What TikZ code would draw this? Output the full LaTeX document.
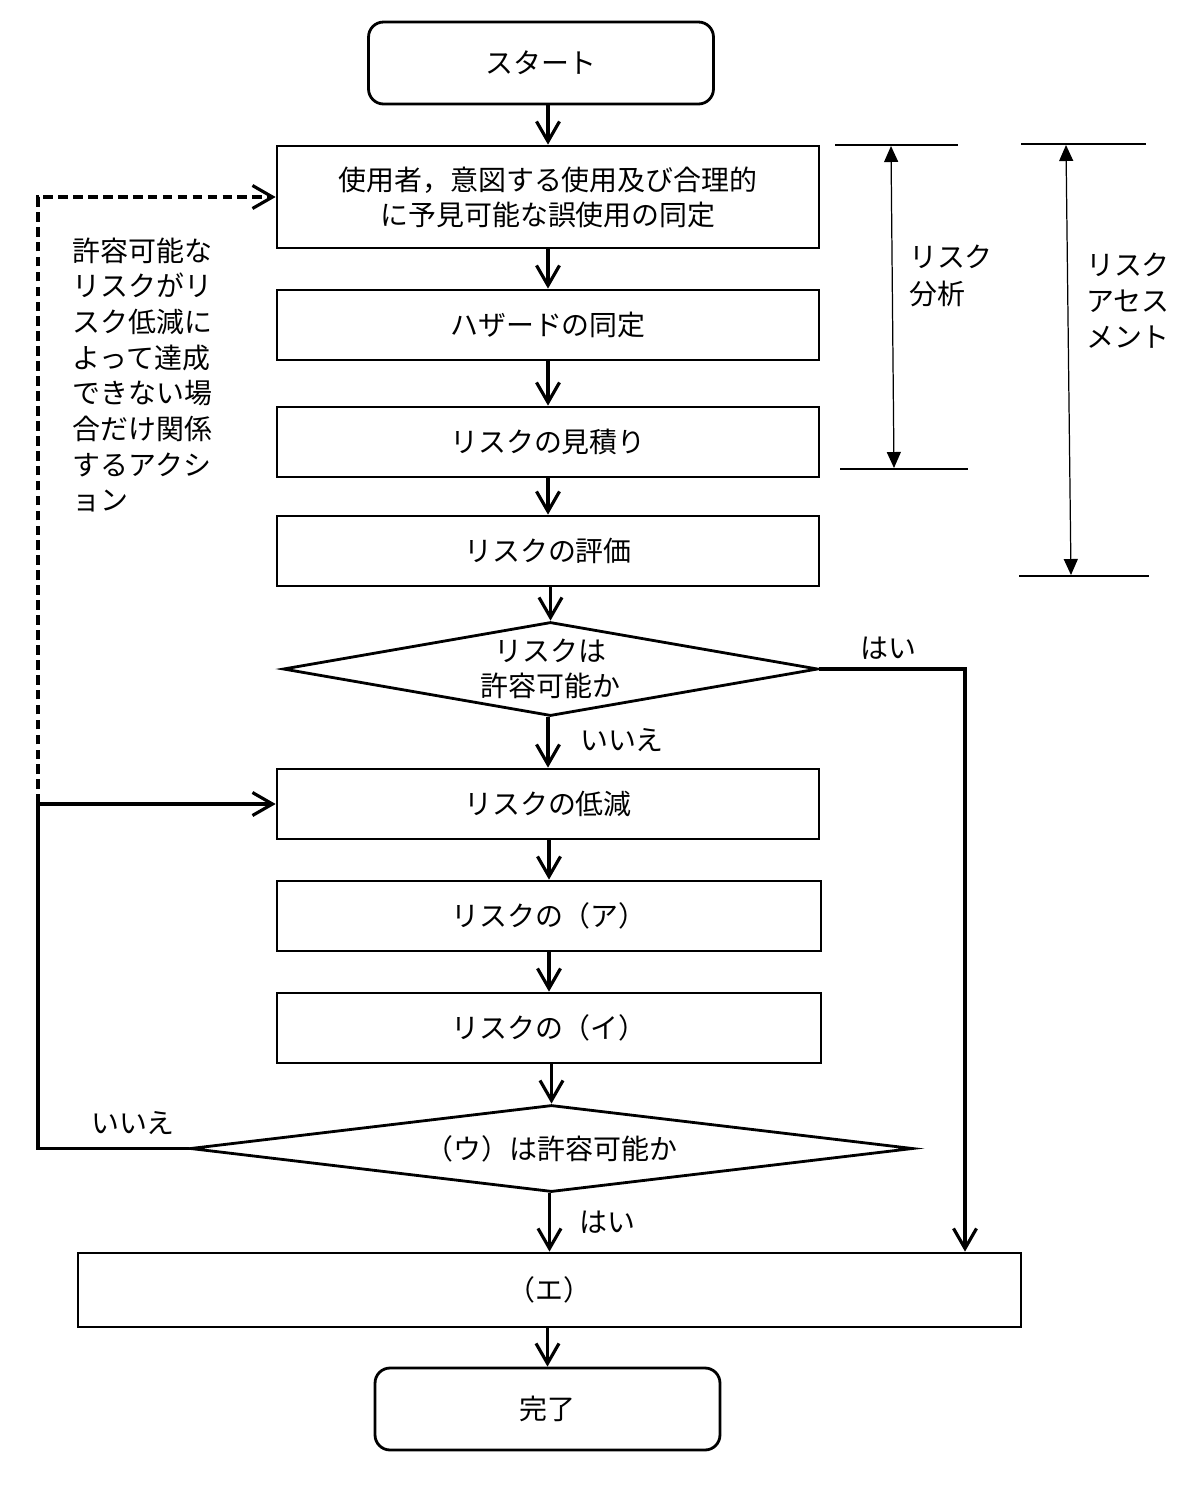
\documentclass[tikz,border=0pt]{standalone}
\usepackage{fontspec}
\setmainfont{Noto Sans CJK JP}
\usepackage{tikz}
\usetikzlibrary{shapes.geometric}
\usetikzlibrary{arrows.meta}

\begin{document}
\begin{tikzpicture}[x=0.02cm, y=-0.02cm,
    font=\fontsize{15.9}{20}\selectfont,
    stepbox/.style={draw, line width=1.6pt, minimum width=10.84cm,
        minimum height=1.4cm, align=center},
    endbox/.style={stepbox, rounded corners=0.3cm, minimum width=6.9cm,
        minimum height=1.64cm},
    decision/.style={draw, diamond, line width=1.6pt, inner sep=0pt, align=center},
    flow/.style={line width=1.8pt, -{Straight Barb[length=4mm,width=4.6mm]}},
    dimarrow/.style={line width=0.7pt,
        {Triangle[length=3.2mm,width=2.8mm]}-{Triangle[length=3.2mm,width=2.8mm]}},
    thinline/.style={line width=0.7pt},
    note/.style={align=left, inner sep=0pt}]
                \useasboundingbox (0,0) rectangle (1200,1489);
                % main column
                \node[endbox] (start) at (541,63) {スタート};
                \node[stepbox, minimum height=2.04cm] (user) at (548,197)
                    {使用者，意図する使用及び合理的\\に予見可能な誤使用の同定};
                \node[stepbox] (hazard) at (548,325) {ハザードの同定};
                \node[stepbox] (estim) at (548,442) {リスクの見積り};
                \node[stepbox] (evalu) at (548,551) {リスクの評価};
                \node[decision, aspect=5.7, minimum width=10.7cm, minimum height=1.88cm]
                    (accept) at (550.5,669) {リスクは\\許容可能か};
                \node[stepbox] (reduce) at (548,804) {リスクの低減};
                \node[stepbox, minimum width=10.88cm] (riskA) at (549,916) {リスクの（ア）};
                \node[stepbox, minimum width=10.88cm] (riskI) at (549,1028) {リスクの（イ）};
                \node[decision, aspect=8, minimum width=14.46cm, minimum height=1.74cm]
                    (residual) at (551.5,1148.5) {（ウ）は許容可能か};
                \node[stepbox, minimum width=18.86cm, minimum height=1.48cm]
                    (docu) at (549.5,1290) {（エ）};
                \node[endbox] (finish) at (547.5,1409) {完了};
                \foreach \a/\b in {start/user, user/hazard, hazard/estim, estim/evalu,
                    evalu/accept, accept/reduce, reduce/riskA, riskA/riskI,
                    riskI/residual, residual/docu, docu/finish}
                    \draw[flow] (\a.south -| \b) -- (\b);
                % yes / no branches
                \coordinate (yescol) at (965,669);
                \coordinate (nocol) at (38,1000);
                \draw[flow] (accept.east) -| (yescol |- docu.north);
                \draw[flow] (residual.west) -| (nocol) |- (reduce.west);
                \draw[flow, dash pattern=on 5.5pt off 3pt] (nocol |- reduce.west)
                    |- (user.west);
                \node[note] (yes1) at (888,648) {はい};
                \node[note] (no1) at (622,740) {いいえ};
                \node[note] (no2) at (133,1123) {いいえ};
                \node[note] (yes2) at (607,1222) {はい};
                \node[note, font=\fontsize{15.9}{20.3}\selectfont] (action) at (142.5,375)
                    {許容可能な\\リスクがリ\\スク低減に\\よって達成\\できない場\\合だけ関係\\するアクシ\\ョン};
                % spans on the right
                \draw[thinline] (835,145) -- (958,145) (840,469) -- (968,469);
                \draw[dimarrow] (891,146) -- (894,468);
                \node[note, font=\fontsize{15.9}{21}\selectfont] (analysis) at (951,276)
                    {リスク\\分析};
                \draw[thinline] (1021,144) -- (1146,144) (1019,576) -- (1149,576);
                \draw[dimarrow] (1066,145) -- (1071,575);
                \node[note, font=\fontsize{15.9}{20.5}\selectfont] (assess) at (1128,301)
                    {リスク\\アセス\\メント};
\end{tikzpicture}
\end{document}
